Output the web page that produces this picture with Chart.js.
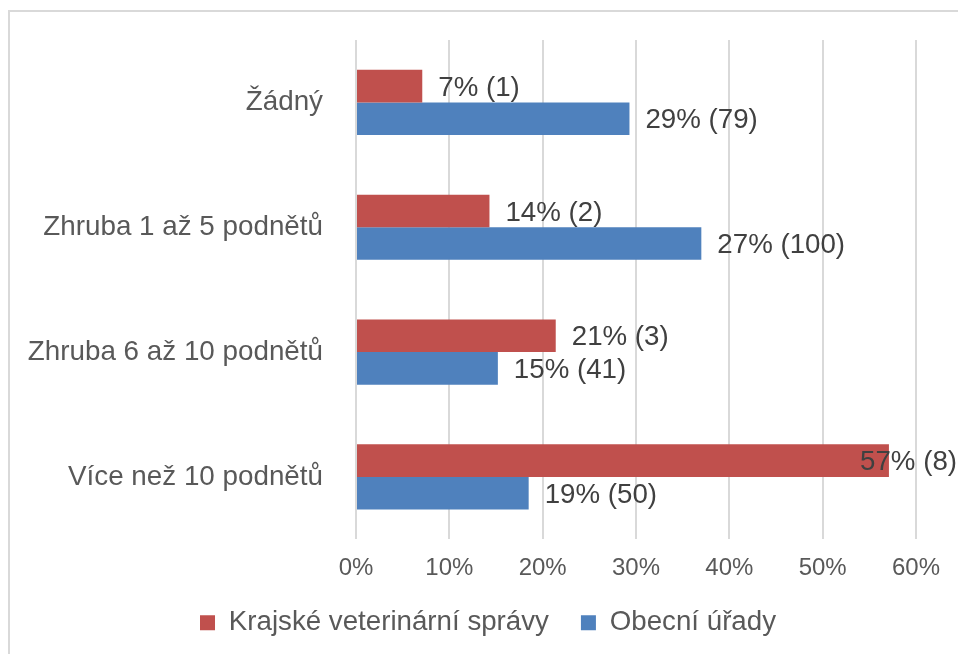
<!DOCTYPE html>
<html>
<head>
<meta charset="utf-8">
<script src="https://cdn.jsdelivr.net/npm/chart.js@4/dist/chart.umd.min.js"></script>
<style>
  html, body { margin: 0; padding: 0; background: #ffffff; }
  #wrap { width: 958px; height: 654px; position: relative; }
</style>
</head>
<body>
<div id="wrap"><canvas id="c" width="958" height="654"></canvas></div>
<script>
const categories = ['Žádný', 'Zhruba 1 až 5 podnětů', 'Zhruba 6 až 10 podnětů', 'Více než 10 podnětů'];
const seriesNames = ['Krajské veterinární správy', 'Obecní úřady'];
const krajskeValues = [7.1, 14.3, 21.4, 57.1];
const obecniValues = [29.3, 37.0, 15.2, 18.5];
const krajskeLabels = ['7% (1)', '14% (2)', '21% (3)', '57% (8)'];
const obecniLabels = ['29% (79)', '27% (100)', '15% (41)', '19% (50)'];
const xTickMin = 0, xTickMax = 60, xTickStep = 10;

const FONT = "'Liberation Sans', Arial, sans-serif";

const frame = {
  id: 'frame',
  beforeDraw(chart) {
    const ctx = chart.ctx;
    ctx.save();
    ctx.fillStyle = '#ffffff';
    ctx.fillRect(0, 0, chart.width, chart.height);
    ctx.strokeStyle = '#D9D9D9';
    ctx.lineWidth = 2;
    ctx.strokeRect(9, 11, 1000, 700);
    ctx.restore();
  }
};

const legendShift = {
  id: 'legendShift',
  afterLayout(chart) {
    const lg = chart.legend;
    if (lg) {
      const h = lg.bottom - lg.top;
      lg.left = 60;
      lg.top = 577;
      lg.bottom = 577 + h;
    }
  }
};

const barLabels = {
  id: 'barLabels',
  afterDatasetsDraw(chart) {
    const ctx = chart.ctx;
    const texts = [krajskeLabels, obecniLabels];
    ctx.save();
    ctx.font = `27.7px ${FONT}`;
    ctx.fillStyle = '#404040';
    ctx.textAlign = 'left';
    ctx.textBaseline = 'middle';
    chart.data.datasets.forEach((ds, di) => {
      const meta = chart.getDatasetMeta(di);
      meta.data.forEach((bar, i) => {
        const t = texts[di][i];
        const w = ctx.measureText(t).width;
        let x = bar.x + 16;
        if (x + w > chart.width - 1) x = chart.width - 1 - w;
        ctx.fillText(t, x, bar.y + 2);
      });
    });
    ctx.restore();
  }
};

new Chart(document.getElementById('c'), {
  type: 'bar',
  data: {
    labels: categories,
    datasets: [
      { label: seriesNames[0], data: krajskeValues, backgroundColor: '#C0504D', categoryPercentage: 0.522, barPercentage: 1.0 },
      { label: seriesNames[1], data: obecniValues, backgroundColor: '#4F81BD', categoryPercentage: 0.522, barPercentage: 1.0 }
    ]
  },
  options: {
    indexAxis: 'y',
    responsive: false,
    animation: false,
    devicePixelRatio: 1,
    layout: { padding: { left: 0, right: 42, top: 40, bottom: 0 } },
    plugins: {
      legend: {
        position: 'bottom',
        labels: {
          font: { family: FONT, size: 27.7 },
          color: '#595959',
          boxWidth: 15,
          boxHeight: 15,
          padding: 32
        }
      },
      tooltip: { enabled: false }
    },
    scales: {
      x: {
        min: xTickMin,
        max: xTickMax,
        ticks: {
          stepSize: xTickStep,
          callback: v => v + '%',
          font: { family: FONT, size: 24 },
          color: '#595959',
          padding: 0
        },
        grid: { color: '#D9D9D9', lineWidth: 2, drawTicks: true, tickLength: 15, tickColor: 'rgba(0,0,0,0)' },
        border: { display: false },
        afterFit(scale) { scale.height = 45; }
      },
      y: {
        ticks: {
          font: { family: FONT, size: 27.8 },
          color: '#595959',
          padding: 0
        },
        grid: { display: true, drawOnChartArea: false, drawTicks: true, tickLength: 33, color: 'rgba(0,0,0,0)', tickColor: 'rgba(0,0,0,0)' },
        border: { display: false },
        afterFit(scale) { scale.width = 356; }
      }
    }
  },
  plugins: [frame, legendShift, barLabels]
});
</script>
</body>
</html>
